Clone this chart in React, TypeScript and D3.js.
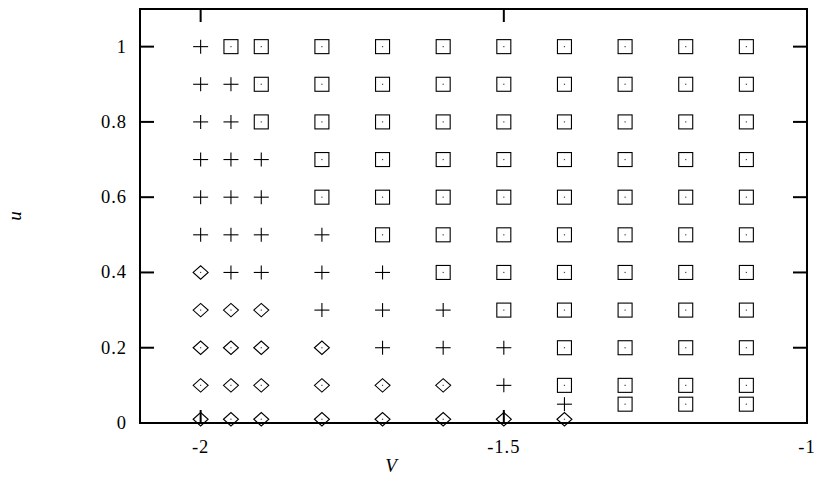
import React from "react";
import * as d3 from "d3";

// Grid of (V, u) samples and the regime found at each one.
// S = boxed dot, P = plus, D = diamond with dot.
const vGrid = [-2, -1.95, -1.9, -1.8, -1.7, -1.6, -1.5, -1.4, -1.3, -1.2, -1.1];
const uGrid = [1, 0.9, 0.8, 0.7, 0.6, 0.5, 0.4, 0.3, 0.2, 0.1];
const regimeRows = [
  ["P", "S", "S", "S", "S", "S", "S", "S", "S", "S", "S"],
  ["P", "P", "S", "S", "S", "S", "S", "S", "S", "S", "S"],
  ["P", "P", "S", "S", "S", "S", "S", "S", "S", "S", "S"],
  ["P", "P", "P", "S", "S", "S", "S", "S", "S", "S", "S"],
  ["P", "P", "P", "S", "S", "S", "S", "S", "S", "S", "S"],
  ["P", "P", "P", "P", "S", "S", "S", "S", "S", "S", "S"],
  ["D", "P", "P", "P", "P", "S", "S", "S", "S", "S", "S"],
  ["D", "D", "D", "P", "P", "P", "S", "S", "S", "S", "S"],
  ["D", "D", "D", "D", "P", "P", "P", "S", "S", "S", "S"],
  ["D", "D", "D", "D", "D", "D", "P", "S", "S", "S", "S"],
];
// Extra low-u samples
const lowU05V = [-1.4, -1.3, -1.2, -1.1];
const lowU05Regime = ["P", "S", "S", "S"];
const lowU01V = [-2, -1.95, -1.9, -1.8, -1.7, -1.6, -1.5, -1.4];
const lowU01Regime = ["D", "D", "D", "D", "D", "D", "D", "D"];

const xTicks = [-2, -1.5, -1];
const yTicks = [0, 0.2, 0.4, 0.6, 0.8, 1];

const W = 815;
const H = 498;
const left = 140;
const right = 807;
const top = 9;
const bottom = 423;

type Pt = { v: number; u: number; kind: string };

const points: Pt[] = [];
regimeRows.forEach((row, i) =>
  row.forEach((k, j) => points.push({ v: vGrid[j], u: uGrid[i], kind: k }))
);
lowU05V.forEach((v, j) => points.push({ v, u: 0.05, kind: lowU05Regime[j] }));
lowU01V.forEach((v, j) => points.push({ v, u: 0.01, kind: lowU01Regime[j] }));

const fmt = (t: number) => String(t);

function Marker({ x, y, kind }: { x: number; y: number; kind: string }) {
  const stroke = "#000";
  if (kind === "P") {
    const hw = 7.5;
    const hh = 7;
    return (
      <g stroke={stroke} strokeWidth={1.1} fill="none">
        <line x1={x - hw} x2={x + hw} y1={y} y2={y} />
        <line x1={x} x2={x} y1={y - hh} y2={y + hh} />
      </g>
    );
  }
  if (kind === "S") {
    const h = 7;
    return (
      <g>
        <rect x={x - h} y={y - h} width={2 * h} height={2 * h} fill="none" stroke={stroke} strokeWidth={1.1} />
        <rect x={x - 0.6} y={y - 0.6} width={1.2} height={1.2} fill="#444" />
      </g>
    );
  }
  const hw = 7.5;
  const hh = 6.7;
  const path = d3.path();
  path.moveTo(x - hw, y);
  path.lineTo(x, y - hh);
  path.lineTo(x + hw, y);
  path.lineTo(x, y + hh);
  path.closePath();
  return (
    <g>
      <path d={path.toString()} fill="none" stroke={stroke} strokeWidth={1.1} />
      <rect x={x - 0.6} y={y - 0.6} width={1.2} height={1.2} fill="#444" />
    </g>
  );
}

const serif = "'Liberation Serif', 'Times New Roman', serif";

export default function App() {
  const x = d3.scaleLinear().domain([-2.1, -1]).range([left, right]);
  const y = d3.scaleLinear().domain([0, 1.1]).range([bottom, top]);
  const tick = 14;
  const labelStyle = { fontFamily: serif, fontSize: "18.5px", letterSpacing: "1px" };

  return (
    <svg
      width={W}
      height={H}
      style={{ position: "absolute", left: 0, top: 0, background: "#fff" }}
    >
      {/* points */}
      {points.map((p, i) => (
        <Marker key={i} x={x(p.v)} y={y(p.u)} kind={p.kind} />
      ))}

      {/* ticks */}
      <g stroke="#000" strokeWidth={2}>
        {xTicks.map((t) => (
          <g key={"xt" + t}>
            <line x1={x(t)} x2={x(t)} y1={bottom} y2={bottom - tick + 1} />
            <line x1={x(t)} x2={x(t)} y1={top} y2={top + tick - 1} />
          </g>
        ))}
        {yTicks.map((t) => (
          <g key={"yt" + t}>
            <line x1={left} x2={left + tick} y1={y(t)} y2={y(t)} />
            <line x1={right} x2={right - tick} y1={y(t)} y2={y(t)} />
          </g>
        ))}
      </g>

      {/* frame */}
      <rect
        x={left}
        y={top}
        width={right - left}
        height={bottom - top}
        fill="none"
        stroke="#000"
        strokeWidth={2}
      />

      {/* tick labels */}
      <g fill="#000">
        {xTicks.map((t) => (
          <text key={"xl" + t} x={x(t)} y={452.5} textAnchor="middle" style={labelStyle}>
            {fmt(t)}
          </text>
        ))}
        {yTicks.map((t) => (
          <text key={"yl" + t} x={127} y={y(t) + 6} textAnchor="end" style={labelStyle}>
            {fmt(t)}
          </text>
        ))}
      </g>

      {/* axis titles */}
      <text
        x={391}
        y={472}
        textAnchor="middle"
        style={{ fontFamily: serif, fontSize: "19px", fontStyle: "italic" }}
      >
        V
      </text>
      <text
        transform={`translate(21, 216) rotate(-90)`}
        textAnchor="middle"
        style={{ fontFamily: serif, fontSize: "19px", fontStyle: "italic" }}
      >
        u
      </text>
    </svg>
  );
}
